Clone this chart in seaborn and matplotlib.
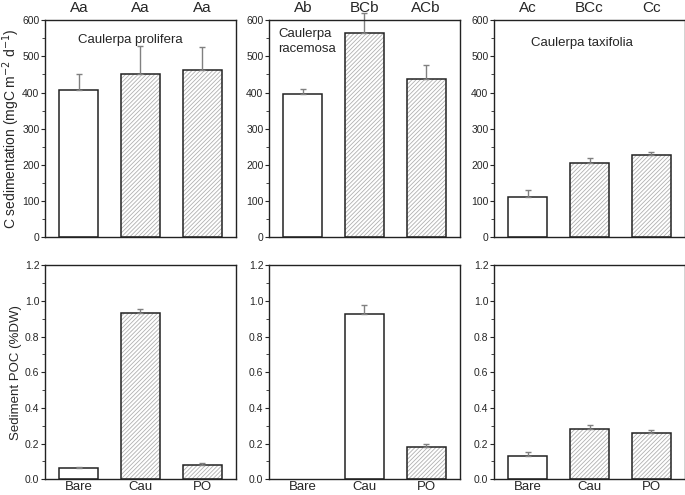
import numpy as np
import pandas as pd
import matplotlib
matplotlib.use('Agg')
import matplotlib.pyplot as plt
from matplotlib.ticker import MultipleLocator
import seaborn as sns

sns.set_theme(style="ticks")
plt.rcParams['font.family'] = ['Liberation Sans', 'DejaVu Sans']
plt.rcParams['hatch.linewidth'] = 0.6

# данные
treat = ['Bare', 'Cau', 'PO']
species = ['Caulerpa prolifera', 'Caulerpa\nracemosa', 'Caulerpa taxifolia']

sed_prolifera = [408, 450, 462]
sed_prolifera_err = [42, 80, 63]
sed_racemosa = [395, 565, 437]
sed_racemosa_err = [15, 55, 38]
sed_taxifolia = [112, 205, 226]
sed_taxifolia_err = [18, 13, 9]

poc_prolifera = [0.06, 0.93, 0.08]
poc_prolifera_err = [0.006, 0.025, 0.01]
poc_racemosa = [np.nan, 0.925, 0.18]
poc_racemosa_err = [np.nan, 0.055, 0.015]
poc_taxifolia = [0.13, 0.28, 0.26]
poc_taxifolia_err = [0.02, 0.025, 0.015]

letters = [['Aa', 'Aa', 'Aa'], ['Ab', 'BCb', 'ACb'], ['Ac', 'BCc', 'Cc']]

sed = [sed_prolifera, sed_racemosa, sed_taxifolia]
sed_err = [sed_prolifera_err, sed_racemosa_err, sed_taxifolia_err]
poc = [poc_prolifera, poc_racemosa, poc_taxifolia]
poc_err = [poc_prolifera_err, poc_racemosa_err, poc_taxifolia_err]

fig = plt.figure(figsize=(6.85, 4.95), dpi=100)
lefts = [0.0657, 0.3927, 0.7212]
w = 0.2788
top_b, top_h = 0.521, 0.438
bot_b, bot_h = 0.032, 0.432

hatches = ['', '////////', '////////']
text_pos = [(0.445, 0.935, 'center'), (0.05, 0.965, 'left'), (0.46, 0.925, 'center')]


def draw_panel(ax, vals, errs, ymax, step, minor):
    df = pd.DataFrame({'treat': treat, 'val': vals})
    sns.barplot(data=df, x='treat', y='val', ax=ax, color='white',
                edgecolor='#b0b0b0', linewidth=0, width=0.63, errorbar=None)
    for p, h in zip(ax.patches, hatches):
        p.set_hatch(h)
    sns.barplot(data=df, x='treat', y='val', ax=ax, fill=False,
                edgecolor='#222222', linewidth=1.1, width=0.63, errorbar=None)
    e = np.array(errs, dtype=float)
    ax.errorbar(np.arange(len(treat)), vals, yerr=[np.zeros_like(e), e],
                fmt='none', ecolor='#808080', elinewidth=1, capsize=2.5,
                capthick=1, clip_on=False)
    ax.set_xlim(-0.55, 2.55)
    ax.set_ylim(0, ymax)
    ax.yaxis.set_major_locator(MultipleLocator(step))
    ax.yaxis.set_minor_locator(MultipleLocator(minor))
    ax.set_xlabel('')
    ax.set_ylabel('')
    for s in ax.spines.values():
        s.set_visible(True)
        s.set_linewidth(1)
        s.set_color('#222222')
    ax.tick_params(axis='y', which='major', direction='out', length=3,
                   width=0.8, labelsize=7.5, pad=1)
    ax.tick_params(axis='y', which='minor', direction='out', length=2, width=0.6)
    ax.tick_params(axis='x', length=0, labelsize=9.5, pad=1)


for i in range(3):
    ax = fig.add_axes([lefts[i], top_b, w, top_h])
    draw_panel(ax, sed[i], sed_err[i], 600, 100, 50)
    ax.set_xticklabels([])
    tx, ty, ha = text_pos[i]
    ax.text(tx, ty, species[i], transform=ax.transAxes, ha=ha, va='top',
            fontsize=9.5, linespacing=1.3)
    for j, lab in enumerate(letters[i]):
        ax.text(j, 1.055, lab, transform=ax.get_xaxis_transform(),
                ha='center', va='center', fontsize=11)
    if i == 0:
        ax.set_ylabel('C sedimentation (mgC m$^{-2}$ d$^{-1}$)', fontsize=10)
        ax.yaxis.set_label_coords(-0.12, 0.5)

    ax2 = fig.add_axes([lefts[i], bot_b, w, bot_h])
    draw_panel(ax2, poc[i], poc_err[i], 1.2, 0.2, 0.1)
    ax2.yaxis.set_major_formatter(matplotlib.ticker.FormatStrFormatter('%.1f'))
    if i == 0:
        ax2.set_ylabel('Sediment POC (%DW)', fontsize=9.5)
        ax2.yaxis.set_label_coords(-0.12, 0.5)

plt.savefig('out.png', dpi=100)
